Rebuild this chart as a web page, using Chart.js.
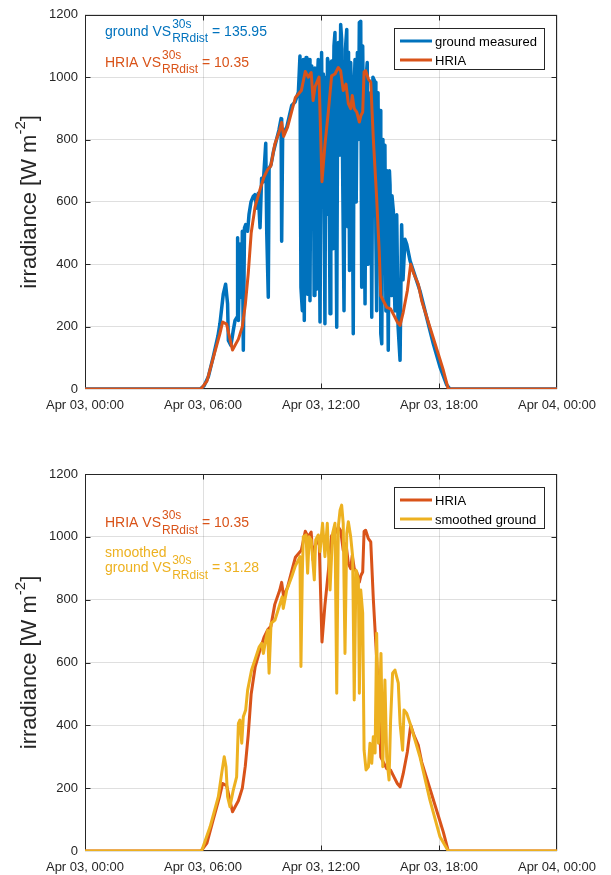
<!DOCTYPE html>
<html>
<head>
<meta charset="utf-8">
<script src="https://cdn.jsdelivr.net/npm/chart.js@4.4.1/dist/chart.umd.min.js"></script>
<style>
  html, body { margin: 0; padding: 0; background: #fff; overflow: hidden; }
  canvas { position: absolute; left: 0; }
  #top { top: 0; }
  #bottom { top: 437px; }
</style>
</head>
<body>
<canvas id="top" width="611" height="437"></canvas>
<canvas id="bottom" width="611" height="438"></canvas>
<script>
'use strict';

// x is hours since Apr 03, 00:00
const xTickHours = [0, 6, 12, 18, 24];
const xTickLabels = ['Apr 03, 00:00', 'Apr 03, 06:00', 'Apr 03, 12:00', 'Apr 03, 18:00', 'Apr 04, 00:00'];
const yTicks = [0, 200, 400, 600, 800, 1000, 1200];

const seriesNames = ['ground measured', 'HRIA', 'smoothed ground'];
const scores = ['135.95', '10.35', '31.28'];

// ground measured (raw, spiky)
const groundHours = [
  0, 5.85, 6.05, 6.27, 6.52, 6.76, 6.86, 7.03, 7.15, 7.25,
  7.29, 7.42, 7.54, 7.63, 7.73, 7.76, 7.8, 7.88, 7.97, 8.0,
  8.05, 8.11, 8.17, 8.27, 8.34, 8.44, 8.56, 8.64, 8.73, 8.81,
  8.9, 8.98, 9.07, 9.19, 9.24, 9.32, 9.36, 9.46, 9.58, 9.75,
  9.86, 9.97, 10.0, 10.05, 10.26, 10.37, 10.51, 10.68, 10.85, 10.93,
  10.98, 11.05, 11.1, 11.15, 11.2, 11.24, 11.28, 11.32, 11.39, 11.44,
  11.49, 11.53, 11.57, 11.61, 11.65, 11.69, 11.73, 11.77, 11.82, 11.86,
  11.9, 11.95, 12.03, 12.08, 12.12, 12.2, 12.25, 12.28, 12.33, 12.37,
  12.46, 12.5, 12.54, 12.58, 12.61, 12.66, 12.71, 12.76, 12.8, 12.85,
  12.88, 12.94, 13.0, 13.05, 13.1, 13.17, 13.24, 13.31, 13.36, 13.4,
  13.45, 13.51, 13.57, 13.64, 13.68, 13.73, 13.79, 13.85, 13.9, 13.95,
  14.02, 14.07, 14.12, 14.18, 14.24, 14.3, 14.35, 14.4, 14.46, 14.52,
  14.58, 14.64, 14.75, 14.79, 14.83, 14.9, 14.95, 15.0, 15.04, 15.09,
  15.15, 15.2, 15.25, 15.3, 15.36, 15.42, 15.48, 15.51, 15.56, 15.61,
  15.68, 15.72, 15.76, 15.85, 15.92, 16.02, 16.1, 16.17, 16.27, 16.36,
  16.53, 17.03, 17.37, 17.71, 18.05, 18.39, 18.56, 24
];
const groundValues = [
  0, 0, 10, 39, 103, 170, 209, 304, 336, 273,
  156, 140, 188, 220, 230, 485, 220, 465, 294, 506,
  124, 517, 527, 506, 560, 600, 618, 623, 580, 628,
  517, 676, 665, 788, 506, 294, 707, 720, 761, 803,
  830, 867, 474, 814, 840, 870, 909, 920, 952, 1068,
  326, 251, 1057, 220, 900, 1063, 600, 304, 1057, 283,
  950, 1036, 520, 888, 300, 1029, 850, 320, 1000, 1057,
  640, 215, 1079, 700, 1010, 209, 1000, 560, 1060, 1047,
  241, 980, 1052, 450, 820, 1100, 1143, 600, 198, 1000,
  1111, 750, 1169, 1121, 700, 251, 1090, 1153, 520, 1080,
  380, 1047, 900, 177, 950, 1057, 600, 1079, 800, 1175,
  1179, 326, 1100, 700, 273, 1000, 1047, 400, 506, 950,
  230, 1000, 984, 500, 251, 950, 400, 893, 177, 145,
  800, 400, 782, 250, 700, 124, 700, 655, 300, 620,
  570, 350, 250, 559, 200, 92, 527, 350, 480, 464,
  411, 315, 230, 145, 71, 13, 0, 0
];

// HRIA estimate (same in both panels)
const hriaHours = [
  0, 5.9, 6.2, 6.5, 6.85, 7.0, 7.2, 7.5, 7.8, 8.0,
  8.15, 8.3, 8.45, 8.65, 8.9, 9.1, 9.3, 9.45, 9.65, 9.9,
  10.0, 10.1, 10.3, 10.55, 10.7, 11.0, 11.2, 11.35, 11.5, 11.6,
  11.7, 11.9, 12.05, 12.2, 12.37, 12.54, 12.71, 12.88, 13.0, 13.13,
  13.27, 13.39, 13.51, 13.59, 13.69, 13.82, 13.95, 14.03, 14.12, 14.19,
  14.27, 14.41, 14.53, 14.66, 14.83, 14.96, 15.04, 15.17, 15.34, 15.54,
  15.71, 15.88, 16.02, 16.18, 16.39, 16.56, 16.73, 16.95, 17.12, 17.54,
  17.96, 18.22, 18.47, 24
];
const hriaValues = [
  0, 0, 25, 95, 175, 215, 208, 125, 160, 200,
  270, 370, 500, 585, 640, 680, 705, 715, 785, 830,
  855, 810, 840, 900, 935, 957, 1018, 1000, 1015, 925,
  970, 1000, 665, 783, 888, 1004, 1010, 1031, 1020, 957,
  978, 915, 899, 941, 899, 888, 856, 877, 888, 1017,
  1021, 994, 984, 803, 612, 442, 299, 283, 262, 257,
  236, 215, 204, 246, 315, 400, 368, 336, 283, 198,
  113, 60, 0, 0
];

// smoothed ground
const smoothHours = [
  0, 5.93, 6.36, 6.78, 6.95, 7.08, 7.17, 7.25, 7.37, 7.54,
  7.71, 7.8, 7.88, 7.97, 8.05, 8.17, 8.27, 8.47, 8.64, 8.86,
  8.98, 9.07, 9.19, 9.29, 9.36, 9.46, 9.66, 9.92, 10.03, 10.08,
  10.26, 10.51, 10.68, 10.93, 10.98, 11.05, 11.1, 11.24, 11.32, 11.4,
  11.5, 11.66, 11.73, 11.86, 11.95, 12.03, 12.08, 12.2, 12.32, 12.46,
  12.59, 12.71, 12.8, 12.88, 12.97, 13.05, 13.13, 13.22, 13.31, 13.39,
  13.51, 13.61, 13.69, 13.78, 13.9, 13.95, 14.02, 14.12, 14.19, 14.29,
  14.41, 14.49, 14.58, 14.66, 14.75, 14.83, 14.92, 15.05, 15.14, 15.25,
  15.34, 15.46, 15.54, 15.64, 15.76, 15.93, 16.02, 16.15, 16.22, 16.36,
  16.53, 17.03, 17.54, 18.05, 18.47, 24
];
const smoothValues = [
  0, 0, 77, 173, 247, 300, 268, 173, 141, 194,
  236, 406, 417, 343, 427, 449, 512, 576, 608, 650,
  661, 629, 672, 703, 566, 725, 735, 788, 809, 772,
  831, 873, 905, 937, 587, 884, 1000, 1006, 884, 1000,
  990, 863, 990, 1006, 953, 1011, 1043, 937, 1043, 831,
  1011, 1043, 502, 1032, 1085, 1101, 1043, 629, 1011, 1048,
  1000, 937, 481, 894, 863, 502, 831, 757, 321, 258,
  268, 343, 279, 364, 312, 693, 343, 629, 268, 544,
  300, 226, 417, 566, 576, 534, 406, 321, 449, 438,
  406, 300, 162, 45, 0, 0
];

const BLUE = '#0072BD';
const ORANGE = '#D95319';
const YELLOW = '#EDB120';
const AXIS = '#262626';
const GRID = 'rgba(38,38,38,0.15)';
const FONT = "'Liberation Sans', Arial, Helvetica, sans-serif";

function toPoints(hours, values) {
  const n = Math.min(hours.length, values.length);
  const pts = [];
  for (let i = 0; i < n; i++) pts.push({ x: hours[i], y: values[i] });
  return pts;
}

function line(label, color, hours, values, order, width) {
  return {
    label: label,
    data: toPoints(hours, values),
    borderColor: color,
    backgroundColor: color,
    borderWidth: width,
    pointRadius: 0,
    tension: 0,
    borderJoinStyle: 'round',
    borderCapStyle: 'round',
    order: order
  };
}

// text like "ground VS^30s_RRdist = 135.95"
function richText(ctx, x, y, color, parts) {
  ctx.fillStyle = color;
  ctx.textAlign = 'left';
  ctx.textBaseline = 'alphabetic';
  ctx.font = '14px ' + FONT;
  ctx.fillText(parts[0], x, y);
  if (parts.length < 2) return;
  x += ctx.measureText(parts[0]).width + 1;
  ctx.font = '12px ' + FONT;
  ctx.fillText(parts[1], x, y - 8);
  ctx.fillText(parts[2], x, y + 6.5);
  x += Math.max(ctx.measureText(parts[1]).width, ctx.measureText(parts[2]).width);
  ctx.font = '14px ' + FONT;
  ctx.fillText(parts[3], x, y);
}

function decor(notes) {
  return {
    id: 'decor',
    beforeDatasetsDraw(chart) {
      const ctx = chart.ctx;
      const a = chart.chartArea;
      const L = Math.round(a.left) + 0.5, R = Math.round(a.right) - 0.5;
      const T = Math.round(a.top) + 0.5, B = Math.round(a.bottom) - 0.5;
      ctx.save();
      ctx.strokeStyle = AXIS;
      ctx.lineWidth = 1;
      ctx.strokeRect(L, T, R - L, B - T);
      ctx.beginPath();
      yTicks.slice(1, -1).forEach(v => {
        const py = Math.round(chart.scales.y.getPixelForValue(v)) + 0.5;
        ctx.moveTo(L, py); ctx.lineTo(L + 5, py);
        ctx.moveTo(R, py); ctx.lineTo(R - 5, py);
      });
      xTickHours.slice(1, -1).forEach(v => {
        const px = Math.round(chart.scales.x.getPixelForValue(v)) + 0.5;
        ctx.moveTo(px, B); ctx.lineTo(px, B - 5);
        ctx.moveTo(px, T); ctx.lineTo(px, T + 5);
      });
      ctx.stroke();
      ctx.restore();
    },
    afterDatasetsDraw(chart) {
      const ctx = chart.ctx;
      const a = chart.chartArea;
      ctx.save();
      notes.forEach(n => richText(ctx, a.left + 20, a.top + n.dy, n.color, n.parts));

      // legend box, top right
      const bx = 394.5, by = Math.round(a.top) + 13.5;
      ctx.fillStyle = '#fff';
      ctx.fillRect(bx, by, 150, 41);
      ctx.strokeStyle = AXIS;
      ctx.lineWidth = 1;
      ctx.strokeRect(bx, by, 150, 41);
      chart.data.datasets.forEach((ds, i) => {
        const ly = Math.round(a.top) + 26 + i * 19;
        ctx.strokeStyle = ds.borderColor;
        ctx.lineWidth = 3;
        ctx.beginPath();
        ctx.moveTo(400, ly); ctx.lineTo(432, ly);
        ctx.stroke();
        ctx.fillStyle = '#000';
        ctx.font = '13px ' + FONT;
        ctx.textBaseline = 'middle';
        ctx.textAlign = 'left';
        ctx.fillText(ds.label, 435, ly + 1);
      });
      ctx.restore();
    },
    afterDraw(chart) {
      const ctx = chart.ctx;
      const a = chart.chartArea;
      ctx.save();
      ctx.translate(36, (a.top + a.bottom) / 2);
      ctx.rotate(-Math.PI / 2);
      ctx.fillStyle = AXIS;
      ctx.textBaseline = 'alphabetic';
      ctx.textAlign = 'left';
      const p1 = 'irradiance [W m', p2 = '-2', p3 = ']';
      ctx.font = '22px ' + FONT;
      const w1 = ctx.measureText(p1).width, w3 = ctx.measureText(p3).width;
      ctx.font = '15px ' + FONT;
      const w2 = ctx.measureText(p2).width;
      let x = -(w1 + w2 + w3) / 2;
      ctx.font = '22px ' + FONT;
      ctx.fillText(p1, x, 0);
      x += w1;
      ctx.font = '15px ' + FONT;
      ctx.fillText(p2, x, -11);
      x += w2;
      ctx.font = '22px ' + FONT;
      ctx.fillText(p3, x, 0);
      ctx.restore();
    }
  };
}

function makeChart(id, datasets, padTop, xAxisHeight, notes) {
  const tickFont = { family: FONT, size: 13 };
  return new Chart(document.getElementById(id), {
    type: 'line',
    data: { datasets: datasets },
    options: {
      responsive: false,
      animation: false,
      events: [],
      layout: { padding: { top: padTop, right: 54, left: 0, bottom: 0 }, autoPadding: false },
      plugins: { legend: { display: false }, tooltip: { enabled: false } },
      scales: {
        x: {
          type: 'linear', min: 0, max: 24,
          afterBuildTicks: s => { s.ticks = xTickHours.map(v => ({ value: v })); },
          afterFit: s => { s.height = xAxisHeight; },
          ticks: {
            callback: v => xTickLabels[xTickHours.indexOf(v)],
            color: AXIS, font: tickFont, padding: 9, maxRotation: 0, autoSkip: false
          },
          grid: { color: GRID, drawTicks: false },
          border: { display: false }
        },
        y: {
          min: 0, max: 1200,
          afterBuildTicks: s => { s.ticks = yTicks.map(v => ({ value: v })); },
          afterFit: s => { s.width = 85; },
          ticks: { callback: v => String(v), color: AXIS, font: tickFont, padding: 7 },
          grid: { color: GRID, drawTicks: false },
          border: { display: false }
        }
      }
    },
    plugins: [decor(notes)]
  });
}

makeChart('top', [
  line(seriesNames[0], BLUE, groundHours, groundValues, 1, 3.5),
  line(seriesNames[1], ORANGE, hriaHours, hriaValues, 0, 3)
], 12, 48, [
  { dy: 21, color: BLUE, parts: ['ground VS', '30s', 'RRdist', ' = ' + scores[0]] },
  { dy: 52, color: ORANGE, parts: ['HRIA VS', '30s', 'RRdist', ' = ' + scores[1]] }
]);

makeChart('bottom', [
  line(seriesNames[1], ORANGE, hriaHours, hriaValues, 1, 3),
  line(seriesNames[2], YELLOW, smoothHours, smoothValues, 0, 3)
], 37, 24, [
  { dy: 53, color: ORANGE, parts: ['HRIA VS', '30s', 'RRdist', ' = ' + scores[1]] },
  { dy: 83, color: YELLOW, parts: ['smoothed'] },
  { dy: 98, color: YELLOW, parts: ['ground VS', '30s', 'RRdist', ' = ' + scores[2]] }
]);
</script>
</body>
</html>
